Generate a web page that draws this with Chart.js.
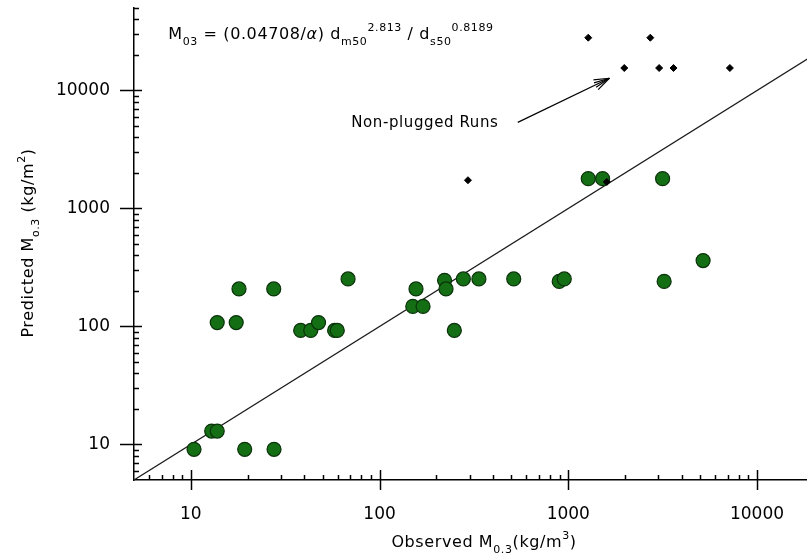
<!DOCTYPE html>
<html>
<head>
<meta charset="utf-8">
<script src="https://cdn.jsdelivr.net/npm/chart.js@4.4.1/dist/chart.umd.min.js"></script>
<style>
  html, body { margin: 0; padding: 0; background: #fff; overflow: hidden; }
  canvas { display: block; }
</style>
</head>
<body>
<canvas id="chart" width="807" height="557"></canvas>
<script>
// Plugged runs: observed vs predicted M0.3
const pluggedObserved = [10.4, 12.9, 13.8, 19.3, 27.6, 13.8, 17.4, 18.0, 27.5, 38.2,
  43.2, 47.5, 57.8, 59.7, 68.1, 150, 170, 156, 221, 225,
  249, 278, 336, 514, 895, 952, 3220, 5180, 3160, 1276, 1520];
const pluggedPredicted = [9.1, 13.0, 13.0, 9.1, 9.1, 108, 108, 208, 208, 92.5,
  92.5, 108, 92.5, 92.5, 253, 148, 148, 208, 246, 208,
  92.5, 253, 253, 253, 241, 253, 241, 362, 1790, 1790, 1790];

// Non-plugged runs
const nonPluggedObserved = [294, 1600, 1276, 2720, 1980, 3030, 3610, 7180];
const nonPluggedPredicted = [1735, 1680, 28000, 28000, 15500, 15500, 15500, 15500];

// 1:1 agreement line
const agreementLine = [5, 50000];

// Labelled decades on both axes
const xTickLabels = [10, 100, 1000, 10000];
const yTickLabels = [10, 100, 1000, 10000];

const FONT = '"DejaVu Sans", "Liberation Sans", sans-serif';

function pairs(xs, ys) { return xs.map((x, i) => ({ x, y: ys[i] })); }

function decadeLabel(list) {
  return function (v) {
    return list.some(t => Math.abs(v - t) < t * 1e-6) ? String(v) : '';
  };
}

// Text made of runs with sub/superscripts
function setRunFont(ctx, r) {
  ctx.font = (r.italic ? 'italic ' : '') + r.size + 'px ' + FONT;
}
function runsWidth(ctx, runs) {
  let w = 0;
  for (const r of runs) { setRunFont(ctx, r); w += ctx.measureText(r.t).width; }
  return w;
}
function drawRuns(ctx, x, y, runs) {
  for (const r of runs) {
    setRunFont(ctx, r);
    ctx.fillText(r.t, x, y + (r.dy || 0));
    x += ctx.measureText(r.t).width;
  }
}

const decorations = {
  id: 'decorations',
  afterDraw(chart) {
    const ctx = chart.ctx;
    const xs = chart.scales.x, ys = chart.scales.y;
    const area = chart.chartArea;
    ctx.save();
    ctx.strokeStyle = '#000';
    ctx.fillStyle = '#000';
    ctx.lineWidth = 1.5;

    // Tick marks: long crossing ticks at decades, short inward ticks between
    for (let e = 0; e <= 5; e++) {
      for (let k = 1; k <= 9; k++) {
        const v = k * Math.pow(10, e);
        if (v > xs.min && v <= xs.max) {
          const px = Math.round(xs.getPixelForValue(v)) + 0.5;
          ctx.beginPath();
          if (k === 1) { ctx.moveTo(px, area.bottom - 10); ctx.lineTo(px, area.bottom + 10); }
          else { ctx.moveTo(px, area.bottom - 5); ctx.lineTo(px, area.bottom); }
          ctx.stroke();
        }
        if (v > ys.min && v <= ys.max) {
          const py = Math.round(ys.getPixelForValue(v)) + 0.5;
          ctx.beginPath();
          if (k === 1) { ctx.moveTo(area.left - 14, py); ctx.lineTo(area.left + 8, py); }
          else { ctx.moveTo(area.left, py); ctx.lineTo(area.left + 5, py); }
          ctx.stroke();
        }
      }
    }

    ctx.textBaseline = 'alphabetic';
    ctx.textAlign = 'left';
    ctx.letterSpacing = '0.6px';

    // Equation at the top
    const eq = [
      { t: 'M', size: 16 },
      { t: '03', size: 11, dy: 6 },
      { t: ' = (0.04708/', size: 16 },
      { t: 'α', size: 16, italic: true },
      { t: ') d', size: 16 },
      { t: 'm50', size: 11, dy: 6 },
      { t: '2.813', size: 11, dy: -8 },
      { t: ' / d', size: 16 },
      { t: 's50', size: 11, dy: 6 },
      { t: '0.8189', size: 11, dy: -8 }
    ];
    drawRuns(ctx, xs.getPixelForValue(7.6), ys.getPixelForValue(27400), eq);

    // Annotation for the non-plugged group
    ctx.textBaseline = 'middle';
    ctx.font = '15px ' + FONT;
    ctx.fillText('Non-plugged Runs', xs.getPixelForValue(70.8), ys.getPixelForValue(5300));

    const ax0 = xs.getPixelForValue(540), ay0 = ys.getPixelForValue(5370);
    const ax1 = xs.getPixelForValue(1650), ay1 = ys.getPixelForValue(12700);
    const ang = Math.atan2(ay1 - ay0, ax1 - ax0);
    ctx.lineWidth = 1.2;
    ctx.beginPath(); ctx.moveTo(ax0, ay0); ctx.lineTo(ax1, ay1); ctx.stroke();
    for (const da of [-0.35, -0.15, 0.15, 0.35]) {
      ctx.beginPath();
      ctx.moveTo(ax1, ay1);
      ctx.lineTo(ax1 - 16 * Math.cos(ang + da), ay1 - 16 * Math.sin(ang + da));
      ctx.stroke();
    }

    // Axis titles
    ctx.textBaseline = 'alphabetic';
    const xTitle = [
      { t: 'Observed M', size: 16 },
      { t: '0.3', size: 11, dy: 6 },
      { t: '(kg/m', size: 16 },
      { t: '3', size: 11, dy: -8 },
      { t: ')', size: 16 }
    ];
    const xw = runsWidth(ctx, xTitle);
    drawRuns(ctx, 484 - xw / 2, 547, xTitle);

    const yTitle = [
      { t: 'Predicted M', size: 16 },
      { t: 'o.3', size: 11, dy: 6 },
      { t: ' (kg/m', size: 16 },
      { t: '2', size: 11, dy: -8 },
      { t: ')', size: 16 }
    ];
    const yw = runsWidth(ctx, yTitle);
    ctx.translate(33, 243);
    ctx.rotate(-Math.PI / 2);
    drawRuns(ctx, -yw / 2, 0, yTitle);
    ctx.restore();
  }
};

const axisCommon = {
  type: 'logarithmic',
  grid: { display: false, drawTicks: false },
  border: { display: true, color: '#000', width: 1.5 },
  ticks: {
    color: '#000',
    font: { family: FONT, size: 17 },
    padding: 24,
    autoSkip: false,
    maxRotation: 0,
    minRotation: 0
  }
};

new Chart(document.getElementById('chart'), {
  type: 'scatter',
  data: {
    datasets: [
      {
        label: '1:1',
        type: 'line',
        data: pairs(agreementLine, agreementLine),
        borderColor: '#1a1a1a',
        borderWidth: 1.2,
        pointRadius: 0,
        fill: false,
        order: 3
      },
      {
        label: 'Plugged',
        data: pairs(pluggedObserved, pluggedPredicted),
        pointStyle: 'circle',
        pointRadius: 7,
        backgroundColor: '#146e14',
        borderColor: '#0b320b',
        borderWidth: 1.2,
        order: 2
      },
      {
        label: 'Non-plugged',
        data: pairs(nonPluggedObserved, nonPluggedPredicted),
        pointStyle: 'rectRot',
        pointRadius: 3.5,
        backgroundColor: '#000',
        borderColor: '#000',
        borderWidth: 1,
        order: 1
      }
    ]
  },
  options: {
    responsive: false,
    animation: false,
    devicePixelRatio: 1,
    layout: { autoPadding: false, padding: { top: 8, right: 0, left: 0, bottom: 0 } },
    plugins: { legend: { display: false }, tooltip: { enabled: false } },
    scales: {
      x: Object.assign({}, axisCommon, {
        min: 5, max: 18400,
        ticks: Object.assign({}, axisCommon.ticks, { callback: decadeLabel(xTickLabels) }),
        afterFit(s) { s.height = 77; s.paddingLeft = 0; s.paddingRight = 0; }
      }),
      y: Object.assign({}, axisCommon, {
        min: 5, max: 50000,
        ticks: Object.assign({}, axisCommon.ticks, { callback: decadeLabel(yTickLabels) }),
        afterFit(s) { s.width = 134; s.paddingTop = 0; s.paddingBottom = 0; }
      })
    }
  },
  plugins: [decorations]
});
</script>
</body>
</html>
